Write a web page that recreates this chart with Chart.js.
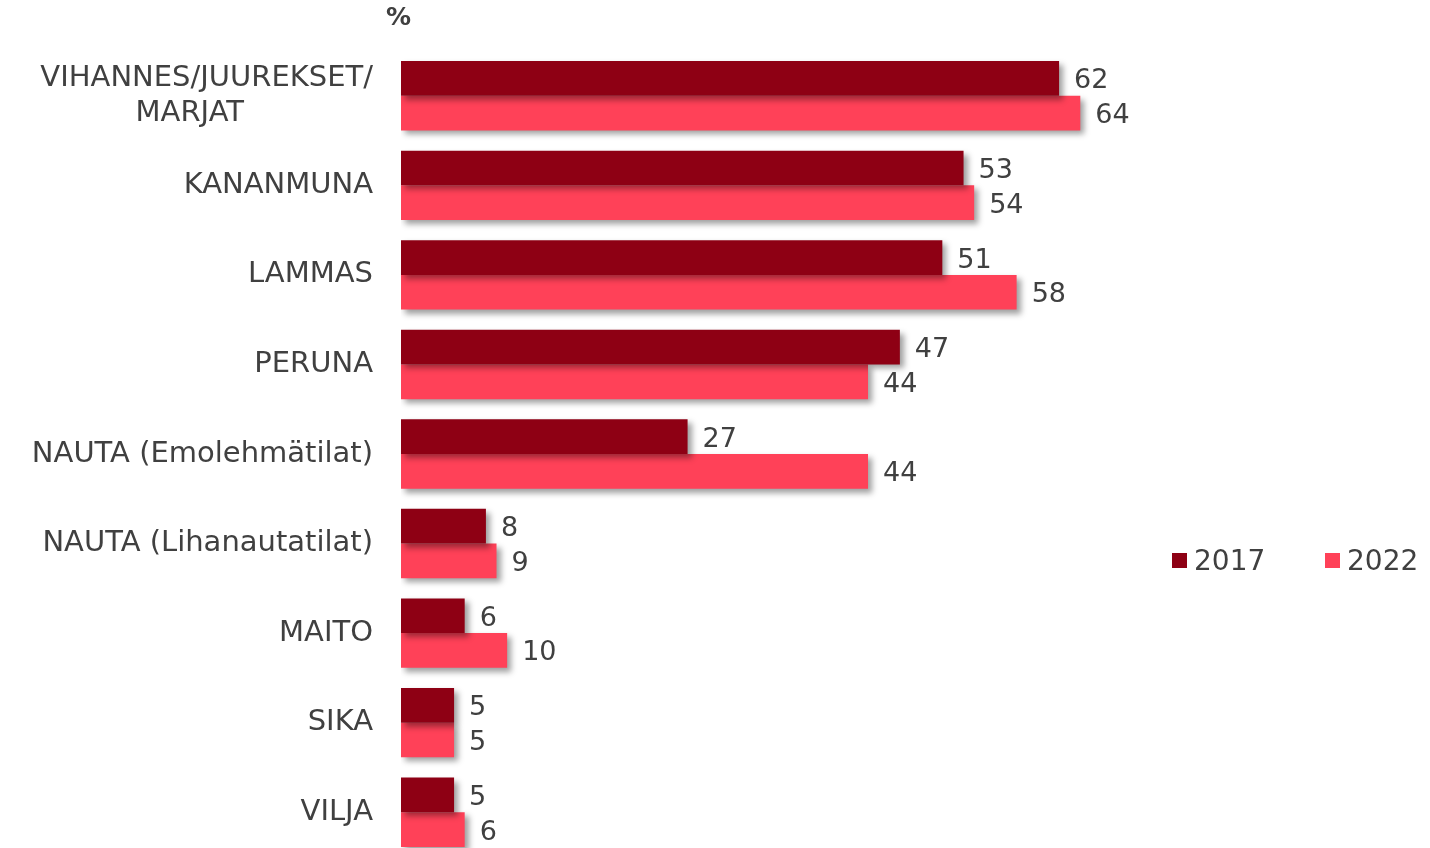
<!DOCTYPE html>
<html>
<head>
<meta charset="utf-8">
<script src="https://cdn.jsdelivr.net/npm/chart.js@4.4.1/dist/chart.umd.min.js"></script>
<style>
  html, body { margin: 0; padding: 0; background: #fff; overflow: hidden; }
  canvas { display: block; }
</style>
</head>
<body>
<canvas id="chart" width="1430" height="857"></canvas>
<script>
const NBSP = '\u00a0';
const categories = [
  ['VIHANNES/JUUREKSET/', 'MARJAT' + NBSP.repeat(14)],
  'KANANMUNA',
  'LAMMAS',
  'PERUNA',
  'NAUTA (Emolehmätilat)',
  'NAUTA (Lihanautatilat)',
  'MAITO',
  'SIKA',
  'VILJA'
];
const values2017 = [62, 53, 51, 47, 27, 8, 6, 5, 5];
const values2022 = [64, 54, 58, 44, 44, 9, 10, 5, 6];
const seriesLabels = ['2017', '2022'];
const seriesColors = ['#8e0014', '#ff4158'];

const textColor = '#404040';
const fontFamily = '"DejaVu Sans", Verdana, sans-serif';

const shadowPlugin = {
  id: 'barShadow',
  beforeDatasetsDraw(chart) {
    const ctx = chart.ctx;
    ctx.save();
    ctx.shadowColor = 'rgba(0,0,0,0.38)';
    ctx.shadowBlur = 6;
    ctx.shadowOffsetX = 4;
    ctx.shadowOffsetY = 4;
  },
  afterDatasetsDraw(chart) {
    chart.ctx.restore();
  }
};

const valueLabels = {
  id: 'valueLabels',
  afterDraw(chart) {
    const ctx = chart.ctx;
    ctx.save();
    ctx.font = '27px ' + fontFamily;
    ctx.fillStyle = textColor;
    ctx.textAlign = 'left';
    ctx.textBaseline = 'middle';
    chart.data.datasets.forEach((ds, i) => {
      chart.getDatasetMeta(i).data.forEach((bar, j) => {
        ctx.fillText(String(ds.data[j]), bar.x + 15, bar.y + 3);
      });
    });

    // "%" unit above the axis
    ctx.font = 'bold 25px ' + fontFamily;
    ctx.fillText('%', 386, 18);

    // legend, one row at the right
    const legendX = [1172, 1325];
    ctx.font = '28px ' + fontFamily;
    chart.data.datasets.forEach((ds, i) => {
      ctx.fillStyle = ds.backgroundColor;
      ctx.fillRect(legendX[i], 553, 15, 15);
      ctx.fillStyle = textColor;
      ctx.fillText(ds.label, legendX[i] + 22, 563);
    });
    ctx.restore();
  }
};

new Chart(document.getElementById('chart'), {
  type: 'bar',
  data: {
    labels: categories,
    datasets: seriesLabels.map((label, i) => ({
      label: label,
      data: i === 0 ? values2017 : values2022,
      backgroundColor: seriesColors[i],
      borderWidth: 0,
      barPercentage: 1,
      categoryPercentage: 0.775
    }))
  },
  options: {
    indexAxis: 'y',
    responsive: false,
    animation: false,
    layout: { padding: { top: 51, right: 286, bottom: 0, left: 0 } },
    plugins: {
      legend: { display: false },
      tooltip: { enabled: false }
    },
    scales: {
      x: { display: false, min: 0, max: 70 },
      y: {
        grid: { display: false, drawTicks: false },
        border: { display: false },
        afterFit(scale) {
          scale.width = 401;
          scale.paddingTop = 0;
          scale.paddingBottom = 0;
        },
        ticks: {
          color: textColor,
          padding: 28,
          font: { family: fontFamily, size: 29, lineHeight: 1.2 }
        }
      }
    }
  },
  plugins: [shadowPlugin, valueLabels]
});
</script>
</body>
</html>
